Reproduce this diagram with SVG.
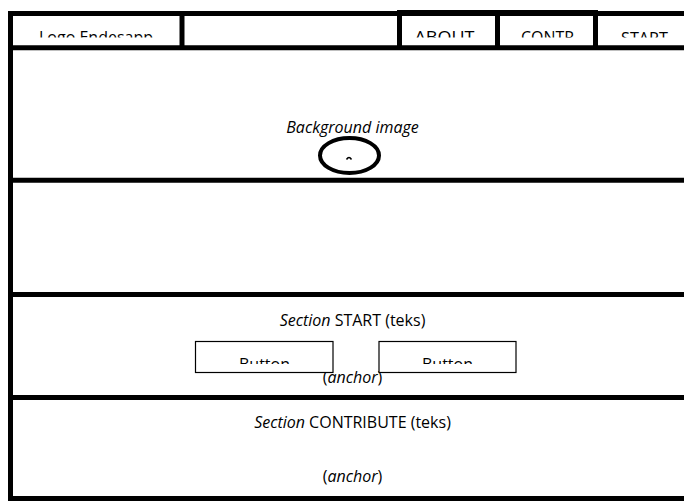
<svg xmlns="http://www.w3.org/2000/svg" width="684" height="504" viewBox="0 0 684 504">
<style>
.t{font-family:"Open Sans","Noto Sans","Liberation Sans",sans-serif;font-size:16px;fill:#000;text-anchor:middle}
.i{font-style:italic}
.thick{stroke:#000;stroke-width:5;fill:none}
.btn{fill:#fff;stroke:#000;stroke-width:1.2}
</style>
<defs>
<clipPath id="hdrClip"><rect x="0" y="16" width="684" height="21.5"/></clipPath>
<clipPath id="btnClip"><rect x="0" y="342" width="684" height="22"/></clipPath>
</defs>
<rect width="684" height="504" fill="#fff"/>
<g id="frame">
<line class="thick" x1="10.5" y1="11" x2="10.5" y2="501"/>
<line class="thick" x1="8" y1="13.5" x2="684" y2="13.5"/>
<rect x="399.5" y="10.5" width="196" height="4" fill="none" stroke="#000" stroke-width="1"/>
<line class="thick" x1="8" y1="47.8" x2="684" y2="47.8"/>
<line class="thick" x1="182" y1="11" x2="182" y2="50"/>
<line class="thick" x1="399.5" y1="10" x2="399.5" y2="50"/>
<line class="thick" x1="497.5" y1="10" x2="497.5" y2="50"/>
<line class="thick" x1="595.5" y1="10" x2="595.5" y2="50"/>
<line class="thick" x1="8" y1="180.3" x2="684" y2="180.3"/>
<line class="thick" x1="8" y1="294.5" x2="684" y2="294.5"/>
<line class="thick" x1="8" y1="397.5" x2="684" y2="397.5"/>
<line class="thick" x1="8" y1="498.5" x2="684" y2="498.5"/>
</g>
<g id="header" clip-path="url(#hdrClip)">
<text class="t" x="96" y="43.2">Logo Endesapp</text>
<text class="t" x="444.5" y="43.2" textLength="60" lengthAdjust="spacingAndGlyphs">ABOUT</text>
<text class="t" x="547.5" y="43.2" textLength="53" lengthAdjust="spacingAndGlyphs">CONTR</text>
<text class="t" x="644.5" y="43.8" textLength="47" lengthAdjust="spacingAndGlyphs">START</text>
</g>
<g id="hero">
<text class="t i" x="352.5" y="133">Background image</text>
<ellipse cx="349.5" cy="155.5" rx="29.5" ry="17.5" fill="none" stroke="#000" stroke-width="4"/>
<path d="M346.5,159.5 Q349,155.5 351.5,159.5" fill="none" stroke="#000" stroke-width="1.5"/>
</g>
<g id="section-start">
<text class="t" x="352.5" y="325.5"><tspan class="i">Section</tspan> START (teks)</text>
<text class="t" x="352.5" y="382.5">(<tspan class="i">anchor</tspan>)</text>
</g>
<g id="button-1">
<rect class="btn" x="195.5" y="341.5" width="137.5" height="31"/>
<text class="t" x="264.5" y="369.6" clip-path="url(#btnClip)">Button</text>
</g>
<g id="button-2">
<rect class="btn" x="379" y="341.5" width="137" height="31"/>
<text class="t" x="447.5" y="369.6" clip-path="url(#btnClip)">Button</text>
</g>
<g id="section-contribute">
<text class="t" x="352.5" y="428"><tspan class="i">Section</tspan> CONTRIBUTE (teks)</text>
<text class="t" x="352.5" y="482">(<tspan class="i">anchor</tspan>)</text>
</g>
</svg>
